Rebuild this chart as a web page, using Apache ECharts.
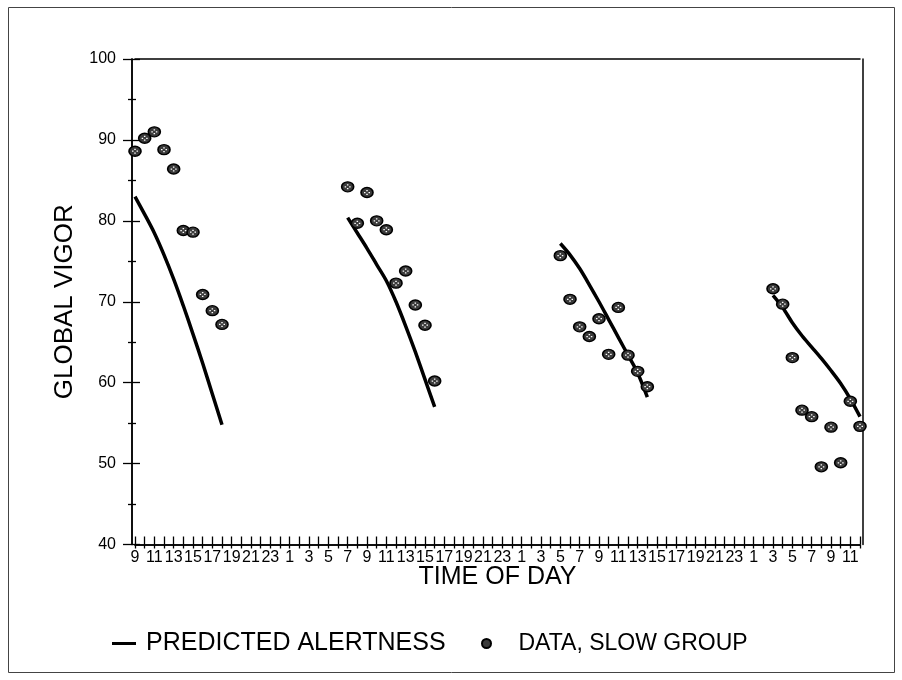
<!DOCTYPE html>
<html>
<head>
<meta charset="utf-8">
<script src="https://cdn.jsdelivr.net/npm/echarts@6/dist/echarts.min.js"></script>
<style>
html,body{margin:0;padding:0;background:#fff;}
#chart{width:902px;height:680px;}
</style>
</head>
<body>
<div id="chart"></div>
<script>
// Hours are counted from midnight of day 1 (day 2 = 24 + h, etc.)
const hours1 = [9, 10, 11, 12, 13, 14, 15, 16, 17, 18];
const hours2 = [31, 32, 33, 34, 35, 36, 37, 38, 39, 40];
const hours3 = [53, 54, 55, 56, 57, 58, 59, 60, 61, 62];
const hours4 = [75, 76, 77, 78, 79, 80, 81, 82, 83, 84];

const data1 = [88.6, 90.2, 91.0, 88.8, 86.4, 78.8, 78.6, 70.9, 68.9, 67.2];
const data2 = [84.2, 79.7, 83.5, 80.0, 78.9, 72.3, 73.8, 69.6, 67.1, 60.2];
const data3 = [75.7, 70.3, 66.9, 65.7, 67.9, 63.5, 69.3, 63.4, 61.4, 59.5];
const data4 = [71.6, 69.7, 63.1, 56.6, 55.8, 49.6, 54.5, 50.1, 57.7, 54.6];

const pred1 = [83.0, 80.8, 78.5, 75.8, 72.8, 69.5, 66.0, 62.4, 58.6, 54.8];
const pred2 = [80.4, 78.5, 76.6, 74.6, 72.6, 70.0, 67.0, 63.8, 60.4, 57.0];
const pred3 = [77.2, 75.8, 74.1, 72.1, 70.0, 67.8, 65.6, 63.4, 61.2, 58.2];
const pred4 = [70.8, 69.3, 67.4, 65.8, 64.4, 63.0, 61.5, 59.9, 58.0, 55.8];

// tick labels for odd hours 9, 11, ... 83
const hourLabels = ['9','11','13','15','17','19','21','23',
  '1','3','5','7','9','11','13','15','17','19','21','23',
  '1','3','5','7','9','11','13','15','17','19','21','23',
  '1','3','5','7','9','11'];
const yTicks = [40, 50, 60, 70, 80, 90, 100];

const seriesName = 'PREDICTED ALERTNESS';
const dataName = 'DATA, SLOW GROUP';

function pairs(h, v) { return h.map((x, i) => [x, v[i]]); }
const dayHours = [hours1, hours2, hours3, hours4];
const dayData = [data1, data2, data3, data4];
const dayPred = [pred1, pred2, pred3, pred4];

const predSeries = dayHours.map((h, i) => ({
  name: seriesName, type: 'line', smooth: 0.3, symbol: 'none',
  data: pairs(h, dayPred[i]),
  lineStyle: { color: '#000', width: 3.5 }, itemStyle: { color: '#000' },
  z: 3
}));
let allData = [];
dayHours.forEach((h, i) => { allData = allData.concat(pairs(h, dayData[i])); });

const FONT = "'Liberation Sans', Arial, sans-serif";
const chart = echarts.init(document.getElementById('chart'));
const xBase = { type: 'value', min: 9, max: 84, interval: 1, splitLine: { show: false } };
const yBase = { type: 'value', min: yTicks[0], max: yTicks[yTicks.length - 1], interval: 10, splitLine: { show: false } };
const AXL = { show: true, onZero: false, lineStyle: { color: '#000', width: 1.5 } };
const TICK = { color: '#000', width: 1.3 };
const gridRect = { left: 135, right: 42, top: 59, bottom: 135.5 };
chart.setOption({
  backgroundColor: '#fff',
  animation: false,
  grid: [Object.assign({}, gridRect), Object.assign({}, gridRect)],
  graphic: [{
    type: 'rect', shape: { x: 8.5, y: 7.5, width: 886, height: 665 },
    style: { fill: 'none', stroke: '#444', lineWidth: 1 }, silent: true
  }],
  legend: [{
    left: 107, top: 626, itemWidth: 24, itemHeight: 3,
    data: [{ name: seriesName, icon: 'rect', itemStyle: { color: '#000' } }],
    textStyle: { fontFamily: FONT, fontSize: 25, color: '#000', padding: [0, 0, 0, 5] },
    selectedMode: false
  }, {
    left: 476, top: 627, itemWidth: 10, itemHeight: 9,
    data: [{ name: dataName, icon: 'circle' }],
    textStyle: { fontFamily: FONT, fontSize: 23, color: '#000', padding: [0, 0, 0, 22] },
    selectedMode: false
  }],
  xAxis: [
    Object.assign({}, xBase, {
      gridIndex: 0, position: 'bottom',
      axisLine: AXL,
      axisTick: { show: true, inside: false, length: 4, lineStyle: TICK },
      axisLabel: {
        margin: 5, fontFamily: "'Liberation Sans Narrow', 'Liberation Sans', Arial, sans-serif",
        fontSize: 16, color: '#000', showMinLabel: true, showMaxLabel: true,
        formatter: function (v) {
          const k = (v - 9) / 2;
          return (Number.isInteger(k) && hourLabels[k] !== undefined) ? hourLabels[k] : '';
        }
      },
      name: 'TIME OF DAY', nameLocation: 'middle', nameGap: 20, nameMoveOverlap: false,
      nameTextStyle: { fontFamily: FONT, fontSize: 25, color: '#000' }
    }),
    Object.assign({}, xBase, {
      gridIndex: 0, position: 'top',
      axisLine: AXL,
      axisTick: { show: false }, axisLabel: { show: false }
    }),
    Object.assign({}, xBase, {
      gridIndex: 1, position: 'bottom',
      axisLine: AXL,
      axisTick: { show: true, inside: true, length: 8, lineStyle: TICK },
      axisLabel: { show: false }
    })
  ],
  yAxis: [
    Object.assign({}, yBase, {
      gridIndex: 0, position: 'left', offset: 3,
      axisLine: AXL,
      axisTick: { show: true, inside: false, length: 9, lineStyle: TICK },
      minorTick: { show: true, splitNumber: 2, length: 4, lineStyle: TICK },
      axisLabel: { margin: 16, fontFamily: FONT, fontSize: 16, color: '#000' },
      name: 'GLOBAL VIGOR', nameLocation: 'middle', nameGap: 54,
      nameTextStyle: { fontFamily: FONT, fontSize: 26, color: '#000' }
    }),
    Object.assign({}, yBase, {
      gridIndex: 0, position: 'right', offset: 3,
      axisLine: AXL,
      axisTick: { show: false }, axisLabel: { show: false }
    }),
    Object.assign({}, yBase, {
      gridIndex: 1, position: 'left', offset: 3,
      axisLine: AXL,
      axisTick: { show: true, inside: true, length: 8, lineStyle: TICK },
      minorTick: { show: true, splitNumber: 2, length: 4, lineStyle: TICK },
      axisLabel: { show: false }
    })
  ],
  series: predSeries.concat([
    {
      name: dataName, type: 'scatter', data: allData,
      symbol: 'circle', symbolSize: [12, 10],
      itemStyle: { color: '#3a3a3a', borderColor: '#000', borderWidth: 1.5, opacity: 1 },
      z: 4
    },
    {
      name: 'dots', type: 'scatter', data: allData, silent: true,
      xAxisIndex: 2, yAxisIndex: 2,
      symbol: 'path://M3,0h2v2h-2z M0,3h2v2h-2z M6,3h2v2h-2z M3,6h2v2h-2z',
      symbolSize: [6, 5],
      itemStyle: { color: '#fff', opacity: 1 },
      z: 5
    }
  ])
});
</script>
</body>
</html>
